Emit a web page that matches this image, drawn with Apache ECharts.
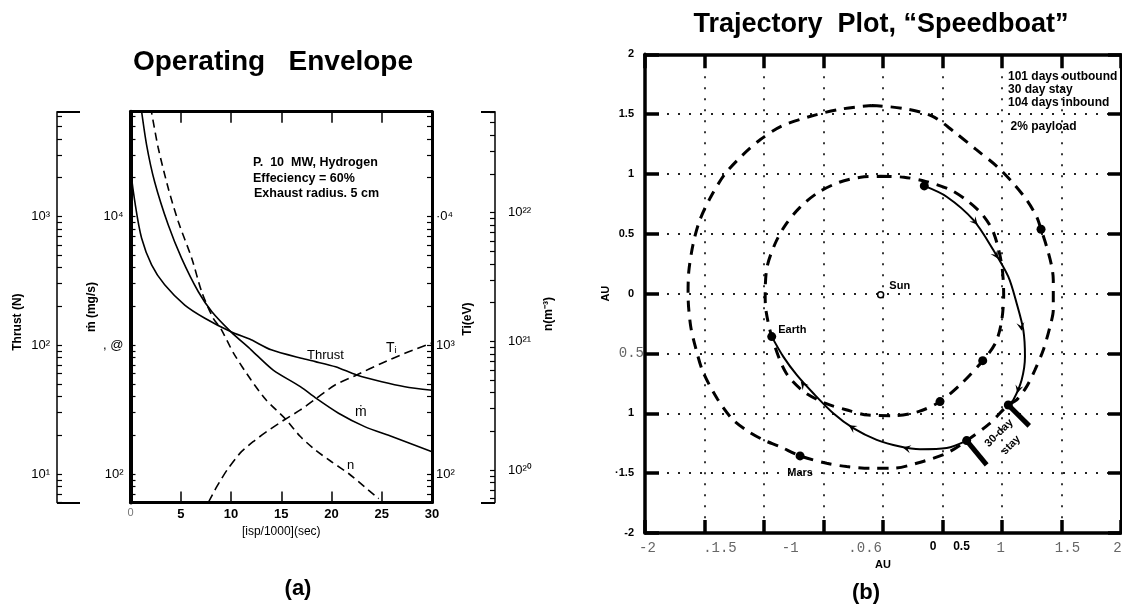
<!DOCTYPE html>
<html><head><meta charset="utf-8">
<script src="https://cdn.jsdelivr.net/npm/echarts@6/dist/echarts.min.js"></script>
<style>html,body{margin:0;padding:0;background:#fff}#c{width:1122px;height:608px}</style>
</head><body><div id="c"></div>
<script>
// ---------- Panel (a): Operating Envelope ----------
const thrustX = [0.02, 0.05, 0.5, 1.1, 2.1, 3.4, 5.4, 7.4, 10, 12, 14, 17, 18.4, 20.4, 22.5, 25, 27.3, 30];
const thrustN = [5000, 2300, 1200, 680, 420, 294, 205, 162, 127, 110, 92, 79, 74.5, 68, 58.7, 52, 47.6, 44.7];
const mdotX = [1.0, 1.6, 2.4, 3.75, 5.1, 6.75, 8.1, 10, 12, 14.2, 16.9, 18.4, 20.7, 23.3, 26, 30];
const mdotMgS = [75000, 36000, 18600, 8600, 4700, 2600, 1820, 1270, 920, 640, 476, 390, 296, 233, 195, 149];
const densX = [2.0, 2.75, 3.75, 4.75, 6.1, 7.1, 8.25, 9.0, 10.25, 12, 13.5, 15.4, 16.9, 18.4, 20, 21.7, 23.3, 24.7];
const densM3 = [6.6e22, 3.2e22, 1.55e22, 8.5e21, 4.4e21, 2.4e21, 1.5e21, 1.25e21, 8.1e20, 5.0e20, 3.5e20, 2.5e20, 1.82e20, 1.43e20, 1.16e20, 9.4e19, 7.4e19, 6.0e19];
const tiX = [7.74, 8.6, 9.6, 10.9, 12.2, 13.55, 15.4, 16.9, 18.5, 20.35, 22.5, 25, 27.3, 30];
const tiEV = [60, 80, 107, 145, 178, 213, 266, 314, 387, 491, 587, 724, 865, 1040];

const thrustTickExp = [1, 2, 3];
const thrustTickLabels = ['10¹', '10²', '10³'];
const mdotTickExp = [2, 3, 4];
const mdotTickLabels = ['10²', ', @', '10⁴'];
const tiTickExp = [2, 3, 4];
const tiTickLabels = ['10²', '10³', '·0⁴'];
const densTickExp = [20, 21, 22];
const densTickLabels = ['10²⁰', '10²¹', '10²²'];

// ---------- Panel (b): Trajectory plot (AU) ----------
const earthOrbitX = [-0.02, 0.176, 0.357, 0.568, 0.718, 0.839, 0.929, 0.996, 1.014, 0.996, 0.945, 0.839, 0.658, 0.479, 0.297, 0.087, -0.125, -0.31, -0.487, -0.668, -0.819, -0.935, -0.984, -0.99, -0.975, -0.909, -0.819, -0.698, -0.547, -0.367, -0.187, -0.02];
const earthOrbitY = [0.98, 0.973, 0.938, 0.867, 0.769, 0.656, 0.51, 0.251, -0.008, -0.234, -0.413, -0.56, -0.753, -0.902, -0.986, -1.02, -1.015, -0.97, -0.915, -0.817, -0.655, -0.359, -0.137, -0.008, 0.219, 0.413, 0.575, 0.721, 0.844, 0.931, 0.973, 0.98];
const marsOrbitX = [-0.095, 0.176, 0.417, 0.598, 0.779, 0.96, 1.095, 1.207, 1.291, 1.328, 1.375, 1.418, 1.431, 1.431, 1.403, 1.347, 1.277, 1.207, 1.123, 1.053, 0.89, 0.703, 0.535, 0.283, 0.087, -0.109, -0.305, -0.473, -0.697, -0.866, -1.006, -1.15, -1.27, -1.39, -1.512, -1.572, -1.617, -1.638, -1.632, -1.596, -1.542, -1.451, -1.331, -1.18, -1.03, -0.849, -0.608, -0.367, -0.095];
const marsOrbitY = [1.573, 1.547, 1.482, 1.352, 1.207, 1.061, 0.922, 0.783, 0.643, 0.538, 0.393, 0.226, 0.115, -0.136, -0.276, -0.47, -0.637, -0.777, -0.888, -0.93, -1.09, -1.228, -1.333, -1.417, -1.459, -1.459, -1.445, -1.417, -1.356, -1.278, -1.222, -1.14, -1.044, -0.882, -0.655, -0.461, -0.267, -0.008, 0.186, 0.413, 0.608, 0.802, 0.996, 1.158, 1.288, 1.401, 1.482, 1.54, 1.573];
const outboundX = [0.347, 0.535, 0.759, 0.927, 1.053, 1.123, 1.179, 1.193, 1.165, 1.095, 1.053];
const outboundY = [0.9, 0.81, 0.616, 0.365, 0.142, -0.08, -0.303, -0.526, -0.721, -0.888, -0.93];
const inboundX = [0.703, 0.535, 0.311, 0.143, -0.053, -0.25, -0.418, -0.586, -0.725, -0.838, -0.935];
const inboundY = [-1.228, -1.29, -1.3, -1.278, -1.222, -1.124, -0.999, -0.832, -0.679, -0.526, -0.359];
const outArrowX = [0.773, 0.95, 1.16, 1.137];
const outArrowY = [0.6, 0.32, -0.276, -0.8];
const inArrowX = [0.199, -0.26, -0.67];
const inArrowY = [-1.293, -1.118, -0.76];
const planetDotX = [0.347, 1.328, 0.838, 0.479, 1.053, 0.703, -0.697, -0.935];
const planetDotY = [0.9, 0.538, -0.56, -0.902, -0.93, -1.228, -1.356, -0.359];
const planetDotNames = ['', '', '', '', '', '', 'Mars', 'Earth'];
const sunX = [-0.02], sunY = [-0.01];
const stayBarStartX = [1.053, 0.703], stayBarStartY = [-0.93, -1.228];
const stayBarEndX = [1.229, 0.871], stayBarEndY = [-1.105, -1.431];

const auTickVals = [2, 1.5, 1, 0.5, 0, -0.5, -1, -1.5, -2];
const auYTickLabels = ['2', '1.5', '1', '0.5', '0', '0.5', '1', '·1.5', '-2'];
const auYTickMono = [0, 0, 0, 0, 0, 1, 0, 0, 0];
const auXLabelVals = [-1.98, -1.37, -0.78, -0.15, 0.42, 0.66, 0.99, 1.55, 1.97];
const auXTickLabels = ['-2', '.1.5', '-1', '.0.6', '0', '0.5', '1', '1.5', '2'];
const auXTickMono = [1, 1, 1, 1, 0, 0, 1, 1, 1];

// ---------- build ----------
const FONT = '"Liberation Sans", Arial, Helvetica, sans-serif';
const MONO = '"Liberation Mono", "DejaVu Sans Mono", monospace';
const L = Math.log10;
const SPAN = 3.035;
const thrMin = L(6), thrMax = thrMin + SPAN;
const mMin = L(60), mMax = mMin + SPAN;
const nMin = 19.748, nMax = nMin + SPAN;

function minorTicks(lo, hi) {
  const out = [];
  for (let e = Math.floor(lo); e <= Math.ceil(hi); e++)
    for (let k = 1; k < 10; k++) { const v = e + L(k); if (v >= lo && v <= hi) out.push(v); }
  return out;
}
function lbl(exps, labels) {
  return v => { const i = exps.indexOf(Math.round(v)); return i < 0 ? '' : labels[i]; };
}
function logAxis(o) {
  return {
    type: 'value', gridIndex: 0, min: o.min, max: o.max, position: o.pos, offset: o.off || 0,
    axisLine: { show: o.line !== false, onZero: false, lineStyle: { color: '#000', width: o.lw || 1.5 } },
    axisTick: { show: true, inside: true, length: o.tl || 5, customValues: o.ticks, lineStyle: { color: '#000', width: o.tw || 1.2 } },
    axisLabel: o.exps ? { show: true, customValues: o.exps, margin: o.margin, formatter: lbl(o.exps, o.labels),
      color: '#000', fontSize: 13, fontFamily: FONT } : { show: false },
    splitLine: { show: false },
    name: o.name || '', nameLocation: 'middle', nameGap: o.gap || 0, nameRotate: 90,
    nameTextStyle: { color: '#000', fontSize: 12, fontWeight: 'bold', fontFamily: FONT, padding: o.npad || 0 }
  };
}
const pairs = (xs, ys, f) => xs.map((x, i) => [x, f ? f(ys[i]) : ys[i]]);

// arrowhead direction from the nearest segment of the drawn path (travel direction)
function arrowItems(ax, ay, px, py) {
  return ax.map((x, k) => {
    const y = ay[k];
    let best = 0, bd = Infinity;
    for (let i = 0; i < px.length; i++) { const d = (px[i] - x) ** 2 + (py[i] - y) ** 2; if (d < bd) { bd = d; best = i; } }
    const i0 = Math.max(0, best - 1), i1 = Math.min(px.length - 1, best + 1);
    const du = px[i1] - px[i0], dv = py[i1] - py[i0];
    return { value: [x, y], symbolRotate: Math.atan2(-du, dv) * 180 / Math.PI };
  });
}

const dotted = { color: '#222', width: 1.8, type: [2, 9] };
const ARROW = 'path://M5 0L10 10L5 6L0 10Z';

const option = {
  animation: false,
  backgroundColor: '#fff',
  grid: [
    { left: 130.5, top: 111.7, width: 301.5, height: 390.8, outerBoundsMode: 'none' },
    { left: 645, top: 54.3, width: 476, height: 478.7, outerBoundsMode: 'none' }
  ],
  xAxis: [
    { type: 'value', gridIndex: 0, min: 0, max: 30, interval: 5, position: 'bottom',
      axisLine: { onZero: false, lineStyle: { color: '#000', width: 3 } },
      axisTick: { inside: true, length: 11, lineStyle: { color: '#000', width: 1.5 } },
      axisLabel: { margin: 5, formatter: v => v === 0 ? '{z|0}' : '{b|' + v + '}',
        rich: { z: { color: '#777', fontSize: 11, fontFamily: FONT }, b: { color: '#000', fontSize: 13, fontWeight: 'bold', fontFamily: FONT } } },
      splitLine: { show: false },
      name: '[isp/1000](sec)', nameLocation: 'middle', nameGap: 21,
      nameTextStyle: { color: '#000', fontSize: 12, fontFamily: FONT } },
    { type: 'value', gridIndex: 0, min: 0, max: 30, interval: 5, position: 'top',
      axisLine: { onZero: false, lineStyle: { color: '#000', width: 3 } },
      axisTick: { inside: true, length: 11, lineStyle: { color: '#000', width: 1.5 } },
      axisLabel: { show: false }, splitLine: { show: false } },
    { type: 'value', gridIndex: 1, min: -2, max: 2, interval: 0.5, position: 'bottom',
      axisLine: { onZero: false, lineStyle: { color: '#000', width: 3.5 } },
      axisTick: { inside: true, length: 13, lineStyle: { color: '#000', width: 3.5 } },
      axisLabel: { show: false }, splitLine: { show: true, lineStyle: dotted } },
    { type: 'value', gridIndex: 1, min: -2, max: 2, interval: 0.5, position: 'top',
      axisLine: { onZero: false, lineStyle: { color: '#000', width: 3.5 } },
      axisTick: { inside: true, length: 14, lineStyle: { color: '#000', width: 3.5 } },
      axisLabel: { show: false }, splitLine: { show: false } },
    { type: 'value', gridIndex: 1, min: -2, max: 2, position: 'bottom',
      axisLine: { show: false }, axisTick: { show: false }, splitLine: { show: false },
      axisLabel: { customValues: auXLabelVals, margin: 8,
        formatter: v => { const i = auXLabelVals.findIndex(t => Math.abs(t - v) < 1e-6); if (i < 0) return '';
          return (auXTickMono[i] ? '{m|' : '{b|') + auXTickLabels[i] + '}'; },
        rich: { m: { fontFamily: MONO, fontSize: 14, color: '#666' }, b: { fontFamily: FONT, fontSize: 12, fontWeight: 'bold', color: '#000' } } },
      name: 'AU', nameLocation: 'middle', nameGap: 25,
      nameTextStyle: { color: '#000', fontSize: 11, fontWeight: 'bold', fontFamily: FONT } }
  ],
  yAxis: [
    logAxis({ min: thrMin, max: thrMax, pos: 'left', off: 73.5, lw: 1.5, ticks: minorTicks(thrMin, thrMax),
      exps: thrustTickExp, labels: thrustTickLabels, margin: 7, name: 'Thrust (N)', gap: 33, npad: [0, 30, 0, 0] }),
    logAxis({ min: thrMin, max: thrMax, pos: 'left', off: 73.5, line: false, tl: 23, tw: 2, ticks: [thrMin, thrMax] }),
    logAxis({ min: mMin, max: mMax, pos: 'left', off: 0, lw: 4, ticks: minorTicks(mMin, mMax),
      exps: mdotTickExp, labels: mdotTickLabels, margin: 7, name: 'ṁ (mg/s)', gap: 33 }),
    logAxis({ min: mMin, max: mMax, pos: 'right', off: 0, lw: 3, ticks: minorTicks(mMin, mMax),
      exps: tiTickExp, labels: tiTickLabels, margin: 4, name: 'Ti(eV)', gap: 30, npad: [0, 24, 0, 0] }),
    logAxis({ min: nMin, max: nMax, pos: 'right', off: 63, lw: 1.5, ticks: minorTicks(nMin, nMax),
      exps: densTickExp, labels: densTickLabels, margin: 13, name: 'n(m⁻³)', gap: 48, npad: [0, 14, 0, 0] }),
    logAxis({ min: nMin, max: nMax, pos: 'right', off: 63, line: false, tl: 14, tw: 2, ticks: [nMin, nMax] }),
    { type: 'value', gridIndex: 1, min: -2, max: 2, interval: 0.5, position: 'left',
      axisLine: { onZero: false, lineStyle: { color: '#000', width: 3.5 } },
      axisTick: { inside: true, length: 14, lineStyle: { color: '#000', width: 3.5 } },
      axisLabel: { margin: 1,
        formatter: v => { const i = auTickVals.findIndex(t => Math.abs(t - v) < 1e-6); if (i < 0) return '';
          return (auYTickMono[i] ? '{m|' : '{b|') + auYTickLabels[i] + '}'; },
        rich: { m: { fontFamily: MONO, fontSize: 14, color: '#666' },
          b: { fontFamily: FONT, fontSize: 11, fontWeight: 'bold', color: '#000', padding: [0, 10, 0, 0] } } },
      splitLine: { show: true, lineStyle: dotted },
      name: 'AU', nameLocation: 'middle', nameGap: 31, nameRotate: 90,
      nameTextStyle: { color: '#000', fontSize: 11, fontWeight: 'bold', fontFamily: FONT } },
    { type: 'value', gridIndex: 1, min: -2, max: 2, interval: 0.5, position: 'right',
      axisLine: { onZero: false, lineStyle: { color: '#000', width: 2 } },
      axisTick: { inside: true, length: 13, lineStyle: { color: '#000', width: 3.5 } },
      axisLabel: { show: false }, splitLine: { show: false } }
  ],
  series: [
    { name: 'Thrust', type: 'line', xAxisIndex: 0, yAxisIndex: 0, data: pairs(thrustX, thrustN, L),
      smooth: 0.25, symbol: 'none', lineStyle: { color: '#000', width: 1.6 } },
    { name: 'mdot', type: 'line', xAxisIndex: 0, yAxisIndex: 2, data: pairs(mdotX, mdotMgS, L),
      smooth: 0.25, symbol: 'none', lineStyle: { color: '#000', width: 1.6 } },
    { name: 'n', type: 'line', xAxisIndex: 0, yAxisIndex: 4, data: pairs(densX, densM3, L),
      smooth: 0.25, symbol: 'none', lineStyle: { color: '#000', width: 1.6, type: [8, 5] } },
    { name: 'Ti', type: 'line', xAxisIndex: 0, yAxisIndex: 3, data: pairs(tiX, tiEV, L),
      smooth: 0.25, symbol: 'none', lineStyle: { color: '#000', width: 1.6, type: [9, 5] } },

    { name: 'Earth orbit', type: 'line', xAxisIndex: 2, yAxisIndex: 6, data: pairs(earthOrbitX, earthOrbitY),
      smooth: 0.3, symbol: 'none', lineStyle: { color: '#000', width: 3, type: [11, 8] } },
    { name: 'Mars orbit', type: 'line', xAxisIndex: 2, yAxisIndex: 6, data: pairs(marsOrbitX, marsOrbitY),
      smooth: 0.3, symbol: 'none', lineStyle: { color: '#000', width: 3, type: [11, 8] } },
    { name: 'Outbound', type: 'line', xAxisIndex: 2, yAxisIndex: 6, data: pairs(outboundX, outboundY),
      smooth: 0.3, symbol: 'none', lineStyle: { color: '#000', width: 2 } },
    { name: 'Inbound', type: 'line', xAxisIndex: 2, yAxisIndex: 6, data: pairs(inboundX, inboundY),
      smooth: 0.3, symbol: 'none', lineStyle: { color: '#000', width: 2 } },
    { name: 'Arrows', type: 'scatter', xAxisIndex: 2, yAxisIndex: 6, symbol: ARROW, symbolSize: [8, 8], z: 4,
      itemStyle: { color: '#000', opacity: 1 },
      data: arrowItems(outArrowX, outArrowY, outboundX, outboundY)
        .concat(arrowItems(inArrowX, inArrowY, inboundX, inboundY)) },
    ...stayBarStartX.map((x, i) => ({ name: 'stay' + i, type: 'line', xAxisIndex: 2, yAxisIndex: 6,
      data: [[x, stayBarStartY[i]], [stayBarEndX[i], stayBarEndY[i]]], symbol: 'none',
      lineStyle: { color: '#000', width: 5, cap: 'butt' } })),
    { name: 'Planets', type: 'scatter', xAxisIndex: 2, yAxisIndex: 6, symbolSize: 9,
      itemStyle: { color: '#000', opacity: 1 }, z: 5,
      data: planetDotX.map((x, i) => {
        const nm = planetDotNames[i];
        const item = { value: [x, planetDotY[i]] };
        if (nm === 'Earth') item.label = { show: true, formatter: nm, position: 'right', offset: [-3, -7] };
        if (nm === 'Mars') item.label = { show: true, formatter: nm, position: 'bottom', distance: 7 };
        return item;
      }),
      label: { color: '#000', fontSize: 11, fontWeight: 'bold', fontFamily: FONT } },
    { name: 'Sun', type: 'scatter', xAxisIndex: 2, yAxisIndex: 6, symbolSize: 6, z: 5,
      itemStyle: { color: '#fff', borderColor: '#000', borderWidth: 1.5, opacity: 1 },
      data: pairs(sunX, sunY),
      label: { show: true, formatter: 'Sun', position: 'right', offset: [0, -9], color: '#000', fontSize: 11, fontWeight: 'bold', fontFamily: FONT } }
  ],
  graphic: []
};

function txt(x, y, text, font, align, rot) {
  return { type: 'text', x: x, y: y, rotation: rot || 0, z: 100,
    style: { text: text, font: font, fill: '#000', align: align || 'left', textAlign: align || 'left',
      verticalAlign: 'middle', textVerticalAlign: 'middle' } };
}
const B = s => 'bold ' + s + 'px ' + FONT;
const N = s => s + 'px ' + FONT;
option.graphic = [
  txt(273, 62, 'Operating   Envelope', B(28), 'center'),
  txt(881, 25, 'Trajectory  Plot, “Speedboat”', B(27), 'center'),
  txt(298, 589, '(a)', 'bold 22px "Liberation Sans Narrow", ' + FONT, 'center'),
  txt(866, 593, '(b)', B(22), 'center'),
  txt(253, 163, 'P.  10  MW, Hydrogen', B(12.5)),
  txt(253, 178.5, 'Effeciency = 60%', B(12.5)),
  txt(254, 194, 'Exhaust radius. 5 cm', B(12.5)),
  txt(307, 355, 'Thrust', N(13)),
  txt(386, 348, 'Tᵢ', N(14)),
  txt(355, 412, 'ṁ', N(14)),
  txt(347, 465, 'n', N(13)),
  txt(1008, 76.5, '101 days outbound', B(12)),
  txt(1008, 90, '30 day stay', B(12)),
  txt(1008, 103, '104 days inbound', B(12)),
  txt(1010.5, 127, '2% payload', B(12)),
  txt(999, 433, '30-day', B(11), 'center', 0.78),
  txt(1011, 445, 'stay', B(11), 'center', 0.78)
];

const chart = echarts.init(document.getElementById('c'), null, { renderer: 'canvas' });
chart.setOption(option);
</script>
</body></html>
